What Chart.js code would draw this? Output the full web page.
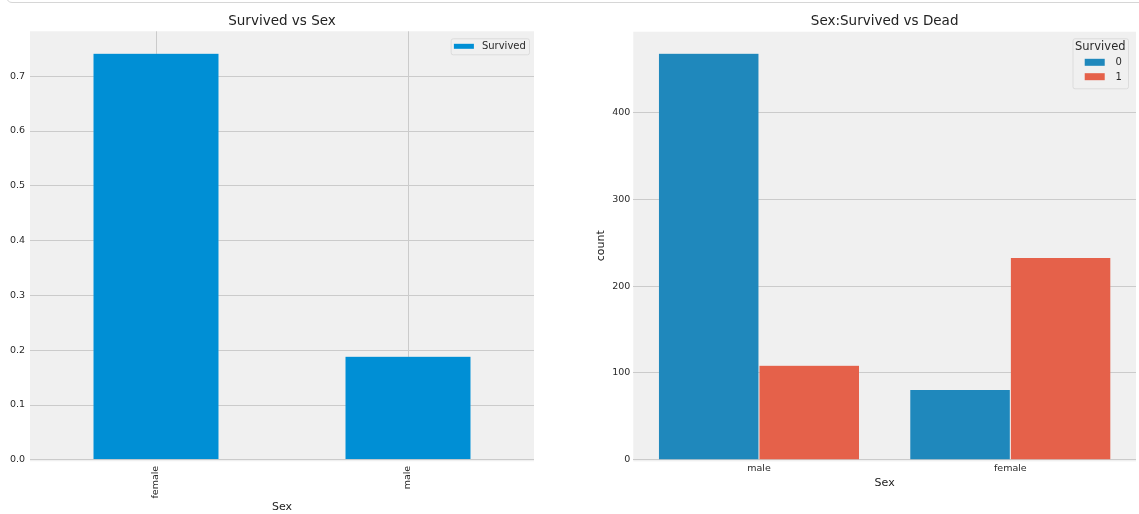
<!DOCTYPE html>
<html>
<head>
<meta charset="utf-8">
<script src="https://cdn.jsdelivr.net/npm/chart.js@4"></script>
<style>
  body { margin: 0; background: #fff; width: 1139px; height: 514px; overflow: hidden; position: relative; }
  #frame { position: absolute; left: 6px; top: -20px; width: 1200px; height: 21px; border: 1px solid #d6d6d6; border-radius: 6px; }
  #left { position: absolute; left: 0; top: 0; width: 560px; height: 514px; }
  #right { position: absolute; left: 590px; top: 0; width: 549px; height: 514px; }
</style>
</head>
<body>
<div id="frame"></div>
<div id="left"><canvas id="c1"></canvas></div>
<div id="right"><canvas id="c2"></canvas></div>
<script>
// left: survival rate by sex
const sexLeft = ["female", "male"];
const survivedRate = [0.742, 0.189];
const leftTicks = [0, 0.1, 0.2, 0.3, 0.4, 0.5, 0.6, 0.7];

// right: counts by sex and survived
const sexRight = ["male", "female"];
const deadCount = [468, 81];
const aliveCount = [109, 233];
const rightTicks = [0, 100, 200, 300, 400];

const FONT = '"DejaVu Sans", sans-serif';
const GRID = "#cbcbcb";
const TEXT = "#2a2a2a";

// gray axes background like the fivethirtyeight style
const plotBg = {
  id: "plotBg",
  beforeDraw(chart) {
    const a = chart.chartArea;
    const ctx = chart.ctx;
    ctx.save();
    ctx.fillStyle = "#f0f0f0";
    ctx.fillRect(a.left, a.top, a.right - a.left, a.bottom - a.top + 1.5);
    ctx.restore();
  }
};

// framed legend in the upper right corner of the plot
const boxLegend = {
  id: "boxLegend",
  afterDraw(chart, args, o) {
    const ctx = chart.ctx;
    const a = chart.chartArea;
    const items = chart.data.datasets;
    ctx.save();
    ctx.font = o.size + "px " + FONT;
    const textW = Math.max(...items.map(d => ctx.measureText(d.label).width));
    const rowW = o.patch + o.gap + textW;
    let titleW = 0;
    if (o.title) {
      ctx.font = o.titleSize + "px " + FONT;
      titleW = ctx.measureText(o.title).width;
    }
    const titleH = o.title ? o.titleH : 0;
    const w = Math.max(rowW, titleW) + 2 * o.padX;
    const h = o.padTop + titleH + items.length * o.rowH + o.padBottom;
    const x0 = a.right - o.right - w;
    const y0 = a.top + o.top;

    ctx.beginPath();
    ctx.roundRect(x0 + 0.5, y0 + 0.5, w, h, 2);
    ctx.fillStyle = "rgba(240,240,240,0.85)";
    ctx.fill();
    ctx.strokeStyle = "#dcdcdc";
    ctx.lineWidth = 1;
    ctx.stroke();

    ctx.textBaseline = "middle";
    ctx.fillStyle = TEXT;
    if (o.title) {
      ctx.textAlign = "center";
      ctx.font = o.titleSize + "px " + FONT;
      ctx.fillText(o.title, x0 + w / 2, y0 + o.padTop + titleH / 2);
    }
    const rx = o.title ? x0 + (w - rowW) / 2 + 3 : x0 + o.padX;
    ctx.font = o.size + "px " + FONT;
    ctx.textAlign = "left";
    items.forEach((d, i) => {
      const cy = y0 + o.padTop + titleH + o.rowH * (i + 0.5);
      ctx.fillStyle = d.backgroundColor;
      ctx.fillRect(rx, cy - o.patchH / 2, o.patch, o.patchH);
      ctx.fillStyle = TEXT;
      ctx.fillText(d.label, rx + o.patch + o.gap, cy + 0.5);
    });
    ctx.restore();
  }
};

Chart.defaults.font.family = FONT;
Chart.defaults.color = TEXT;

new Chart(document.getElementById("c1"), {
  type: "bar",
  data: {
    labels: sexLeft,
    datasets: [{
      label: "Survived",
      data: survivedRate,
      backgroundColor: "#008fd5",
      borderColor: "rgba(255,255,255,0.25)",
      borderWidth: 0.5,
      barPercentage: 0.5,
      categoryPercentage: 1
    }]
  },
  options: {
    responsive: true,
    maintainAspectRatio: false,
    animation: false,
    layout: { padding: { left: 0, right: 26, top: 0, bottom: 0 } },
    plugins: {
      legend: { display: false },
      tooltip: { enabled: false },
      title: {
        display: true,
        text: "Survived vs Sex",
        fullSize: false,
        color: "#222",
        font: { size: 13.5, weight: "normal" },
        padding: { top: 13.6, bottom: 1.5 }
      },
      boxLegend: {
        size: 10, patch: 20, patchH: 5, gap: 8, padX: 3.2,
        padTop: 1, padBottom: 1, rowH: 14, top: 7, right: 5
      }
    },
    scales: {
      x: {
        grid: { color: GRID, offset: false, drawTicks: false },
        border: { display: false },
        ticks: { font: { size: 9.5 }, maxRotation: 90, minRotation: 90, padding: 6 },
        title: { display: true, text: "Sex", color: "#222", font: { size: 11 }, padding: { top: 0, bottom: 0 } },
        afterFit(s) { s.height = 54.2; }
      },
      y: {
        min: 0,
        max: 0.782,
        grid: { color: GRID, drawTicks: false },
        border: { display: false },
        ticks: { font: { size: 9.5 }, padding: 5, callback: v => v.toFixed(1) },
        afterBuildTicks(s) { s.ticks = leftTicks.map(v => ({ value: v })); },
        afterFit(s) { s.width = 30; }
      }
    }
  },
  plugins: [plotBg, boxLegend]
});

new Chart(document.getElementById("c2"), {
  type: "bar",
  data: {
    labels: sexRight,
    datasets: [
      {
        label: "0",
        data: deadCount,
        backgroundColor: "#1f88bc",
        borderColor: "rgba(255,255,255,0.2)",
        borderWidth: 0.5,
        barPercentage: 1,
        categoryPercentage: 0.8
      },
      {
        label: "1",
        data: aliveCount,
        backgroundColor: "#e5614a",
        borderColor: "rgba(255,255,255,0.2)",
        borderWidth: 0.5,
        barPercentage: 1,
        categoryPercentage: 0.8
      }
    ]
  },
  options: {
    responsive: true,
    maintainAspectRatio: false,
    animation: false,
    layout: { padding: { left: 0, right: 3, top: 0, bottom: 24 } },
    plugins: {
      legend: { display: false },
      tooltip: { enabled: false },
      title: {
        display: true,
        text: "Sex:Survived vs Dead",
        fullSize: false,
        color: "#222",
        font: { size: 13.5, weight: "normal" },
        padding: { top: 13.8, bottom: 1.7 }
      },
      boxLegend: {
        title: "Survived", titleSize: 11.5, titleH: 16.8,
        size: 10, patch: 20, patchH: 7, gap: 10.7, padX: 2.5,
        padTop: 0, padBottom: 4.4, rowH: 14.4, top: 6.6, right: 8
      }
    },
    scales: {
      x: {
        grid: { display: false, drawTicks: false },
        border: { display: false },
        ticks: { font: { size: 9.5 }, padding: 3 },
        title: { display: true, text: "Sex", color: "#222", font: { size: 11 }, padding: { top: 0, bottom: 0 } },
        afterFit(s) { s.height = 30.1; }
      },
      y: {
        min: 0,
        max: 492.7,
        grid: { color: GRID, drawTicks: false },
        border: { display: false },
        ticks: { font: { size: 9.5 }, padding: 3 },
        title: { display: true, text: "count", color: "#222", font: { size: 11 }, padding: { top: 4.4, bottom: 0 } },
        afterBuildTicks(s) { s.ticks = rightTicks.map(v => ({ value: v })); },
        afterFit(s) { s.width = 43.3; }
      }
    }
  },
  plugins: [plotBg, boxLegend]
});
</script>
</body>
</html>
